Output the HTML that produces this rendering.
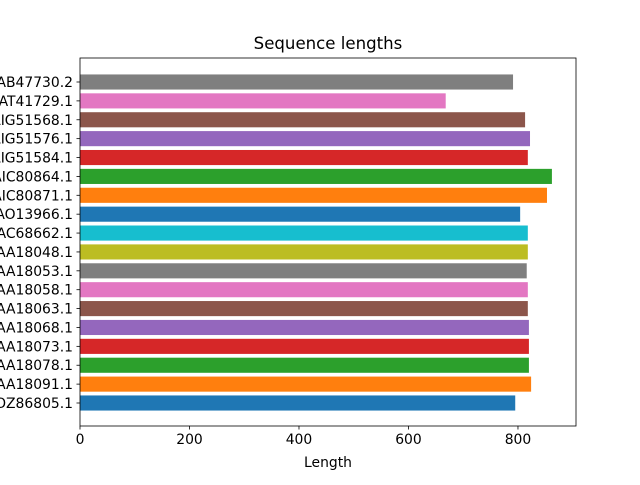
<!DOCTYPE html>
<html><head><meta charset="utf-8"><style>
body{margin:0;background:#fff;font-family:"Liberation Sans","DejaVu Sans",sans-serif;}
svg text{font-family:"DejaVu Sans","Liberation Sans",sans-serif;}
</style></head><body>
<svg id="chart" width="640" height="480" xmlns="http://www.w3.org/2000/svg"></svg>
<script>
const categories = ["AAB47730.2","AAT41729.1","AIG51568.1","AIG51576.1","AIG51584.1","AIC80864.1","AIC80871.1","AAO13966.1","AAC68662.1","AAA18048.1","AAA18053.1","AAA18058.1","AAA18063.1","AAA18068.1","AAA18073.1","AAA18078.1","AAA18091.1","AOZ86805.1"];
const lengths = [791,668,813,822,818,862,853,804,818,818,816,818,818,820,820,820,824,795];
const colors = ["#7f7f7f","#e377c2","#8c564b","#9467bd","#d62728","#2ca02c","#ff7f0e","#1f77b4","#17becf","#bcbd22","#7f7f7f","#e377c2","#8c564b","#9467bd","#d62728","#2ca02c","#ff7f0e","#1f77b4"];
const xTicks = [0,200,400,600,800];

const svg = document.getElementById('chart');
const NS = "http://www.w3.org/2000/svg";
const L=80,R=576,T=58,B=426;
const xMax=906;
const x = v => L + v/xMax*(R-L);
const n = categories.length;
const step = (403-82)/(n-1);
const yc = i => 82 + i*step;
function mk(tag, attrs, parent){const e=document.createElementNS(NS,tag);for(const k in attrs)e.setAttribute(k,attrs[k]);(parent||svg).appendChild(e);return e;}

categories.forEach((c,i)=>{
  const r = mk('rect',{x:x(0),y:yc(i)-0.4*step,width:x(lengths[i])-x(0),height:0.8*step,fill:colors[i]});
  
  
  const tk = mk('line',{x1:L-3.5,x2:L,y1:yc(i),y2:yc(i),stroke:'#000','stroke-width':0.8});
  
  
  const t = mk('text',{x:L-7,y:yc(i)+5,'text-anchor':'end','font-size':13.9});
  t.textContent = c;
  
  
});
xTicks.forEach(v=>{
  const tk = mk('line',{x1:x(v),x2:x(v),y1:B,y2:B+3.5,stroke:'#000','stroke-width':0.8});
  
  
  const t = mk('text',{x:x(v),y:B+18,'text-anchor':'middle','font-size':13.9});
  t.textContent = v;
  
  
});
const frame = mk('rect',{x:L,y:T,width:R-L,height:B-T,fill:'none',stroke:'#000','stroke-width':0.8});


const title = mk('text',{x:(L+R)/2,y:T-9,'text-anchor':'middle','font-size':16.6});
title.textContent='Sequence lengths';


const xl = mk('text',{x:(L+R)/2,y:467,'text-anchor':'middle','font-size':13.9});
xl.textContent='Length';


</script>
</body></html>
